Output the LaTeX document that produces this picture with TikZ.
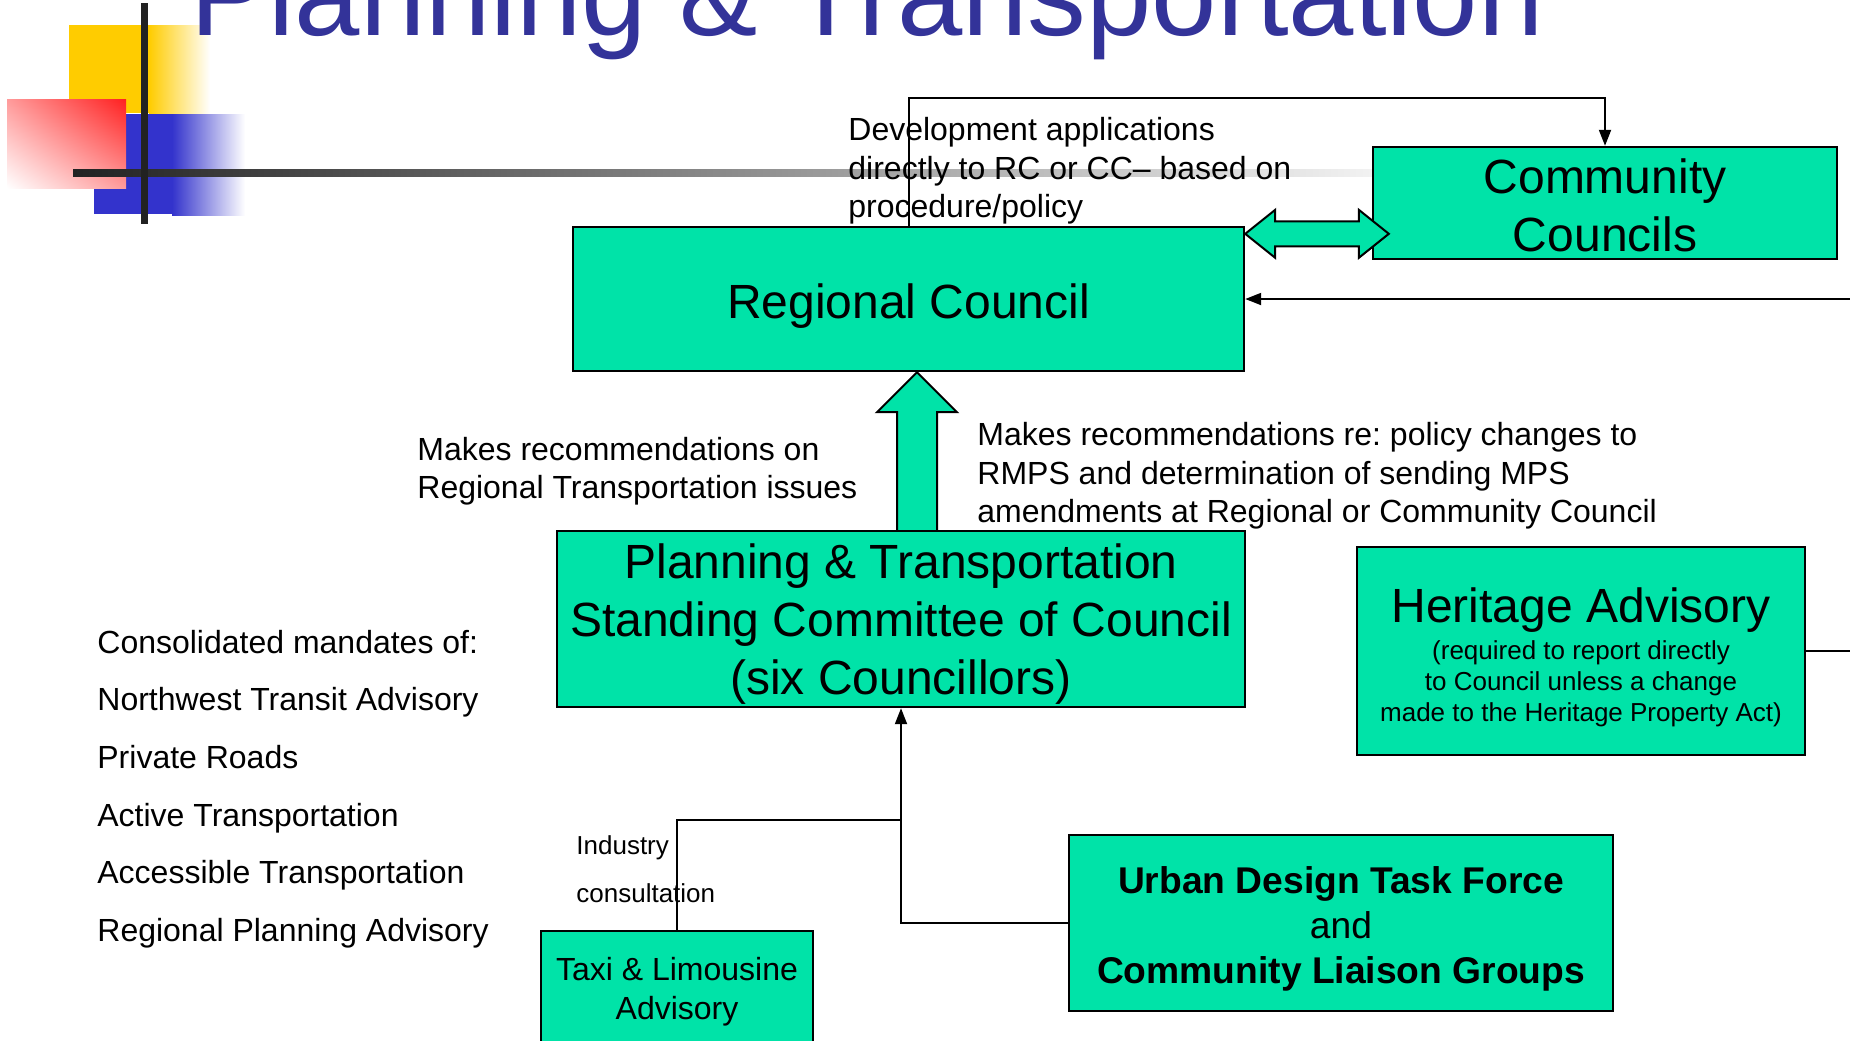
\documentclass[tikz,border=0pt]{standalone}
\usepackage{fontspec}
\setmainfont{Liberation Sans}
\usetikzlibrary{arrows.meta, calc, positioning, shadings}
\definecolor{boxgreen}{RGB}{0,227,168}
\definecolor{titleblue}{RGB}{51,51,153}
\definecolor{decoyellow}{RGB}{255,204,0}
\definecolor{decoblue}{RGB}{51,51,204}
\definecolor{decored}{RGB}{255,32,32}
\definecolor{decoline}{RGB}{34,34,34}
\frenchspacing
\newcommand{\hnote}{\fontsize{13}{15.6}\selectfont}
\newcommand{\topstrut}[1]{\rule{0pt}{#1}}
\tikzset{
    board/.style = {draw=black, line width=1.2pt, fill=boxgreen, align=center,
        inner sep=0pt, font=\fontsize{24}{28.8}\selectfont},
    note/.style = {inner sep=0pt, align=left, anchor=west,
        font=\fontsize{16}{19.2}\selectfont},
    link/.style = {draw=black, line width=1pt},
    tip/.style = {-{Triangle[length=8pt,width=6pt]}},
    blockarrow/.style = {draw=black, line width=1pt, fill=boxgreen, line join=miter},
}
\begin{document}
\begin{tikzpicture}[x=0.5pt, y=-0.5pt]
            \useasboundingbox (0,0) rectangle (1850,1040);
            \clip (0,0) rectangle (1850,1040);
            % slide decoration
            \fill[decoyellow] (69,25) rectangle (149,113);
            \shade[left color=decoyellow, right color=white] (149,25) rectangle (210,113);
            \fill[decoblue] (94,114) rectangle (172,214);
            \shade[left color=decoblue, right color=white] (172,114) rectangle (245,215);
            \shade[upper right=decored, lower left=white, upper left=decored!45!white,
                lower right=decored!45!white] (7,99) rectangle (126,188);
            \shade[left color=decoline, right color=black!5] (73,169) rectangle (1373,176);
            \fill[decoline] (140.5,3) rectangle (147.5,224);
            \node (title) [anchor=base west, inner sep=0pt, text=titleblue,
                font=\fontsize{58.7}{64}\selectfont] at (190,35) {Planning \& Transportation};
            % boxes
            \node (rc) [board, minimum width=335.5pt, minimum height=72pt] at (908.5,299) {\topstrut{24.5pt}Regional Council};
            \node (cc) [board, minimum width=232pt, minimum height=56pt] at (1605,203) {\topstrut{19.5pt}Community\\Councils};
            \node (pt) [board, minimum width=344pt, minimum height=88pt] at (901,619)
                {\topstrut{22.5pt}Planning \& Transportation\\Standing Committee of Council\\(six Councillors)};
            \node (ha) [board, font=\hnote, minimum width=224pt, minimum height=104pt] at (1581,651)
                {\fontsize{24}{28.8}\selectfont\topstrut{23.5pt}Heritage Advisory\\[3pt](required to report directly\\to Council unless a change\\made to the Heritage Property Act)};
            \node (ud) [board, font=\fontsize{18.6}{22.5}\selectfont, minimum width=272pt, minimum height=88pt] at (1341,923)
                {\topstrut{19pt}\textbf{Urban Design Task Force}\\and\\\textbf{Community Liaison Groups}};
            \node (tl) [board, font=\fontsize{16}{19.2}\selectfont, minimum width=136pt, minimum height=56pt] at (677,987)
                {\topstrut{16.4pt}Taxi \& Limousine\\Advisory};
            % connectors
            \coordinate (rcin) at (1850,299);
            \coordinate (haout) at (1850,651);
            \coordinate (join) at ($(pt.south)+(0,112)$);
            \draw[link, tip] (rc.north) -- ++(0,-128) -| (cc.north);
            \draw[link, tip] (rcin) -- (rc.east);
            \draw[link] (ha.east) -- (haout);
            \draw[link, tip] (ud.west) -| (pt.south);
            \draw[link] (tl.north) |- (join);
            % block arrows
            \coordinate (dl) at ($(rc.north east)+(0,8)$);
            \coordinate (dr) at ($(dl -| cc.west)+(17,0)$);
            \draw[blockarrow] (dl) -- ++(30,-24) -- ++(0,11.5) -- ($(dr)+(-30,-12.5)$) -- ++(0,-11.5)
                -- (dr) -- ++(-30,24) -- ++(0,-11.5) -- ($(dl)+(30,12.5)$) -- ++(0,11.5) -- cycle;
            \coordinate (upbase) at ($(pt.north)+(16,0)$);
            \coordinate (uptip) at (upbase |- rc.south);
            \draw[blockarrow] ($(upbase)+(-20,0)$) -- ($(uptip)+(-20,40)$) -- ($(uptip)+(-40,40)$) -- (uptip)
                -- ($(uptip)+(40,40)$) -- ($(uptip)+(20,40)$) -- ($(upbase)+(20,0)$);
            % labels
            \node (devnote) [note] at (848,171) {Development applications\\directly to RC or CC\textendash{} based on\\procedure/policy};
            \node (recleft) [note] at (417,471) {Makes recommendations on\\Regional Transportation issues};
            \node (recright) [note] at (977,476) {Makes recommendations re: policy changes to\\RMPS and determination of sending MPS\\amendments at Regional or Community Council};
            \node (mandates) [note, font=\fontsize{16}{28.8}\selectfont] at (97,789)
                {Consolidated mandates of:\\Northwest Transit Advisory\\Private Roads\\Active Transportation\\Accessible Transportation\\Regional Planning Advisory};
            \node (industry) [note, font=\fontsize{13}{24}\selectfont] at (576,869) {Industry\\consultation};
\end{tikzpicture}
\end{document}
